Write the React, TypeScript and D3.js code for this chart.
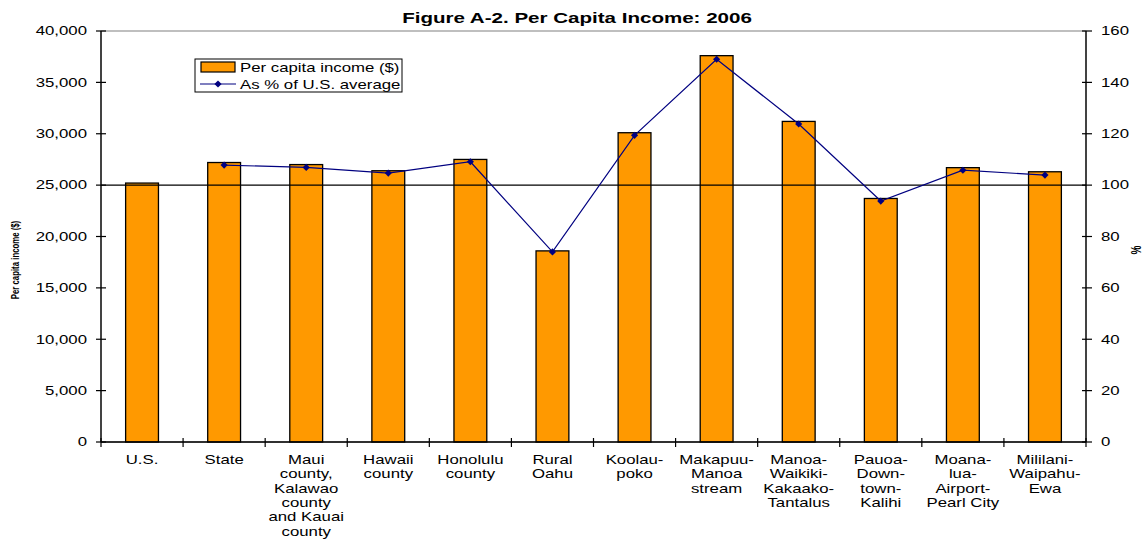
import React from "react";
import * as d3 from "d3";

const categories: string[][] = [
  ["U.S."],
  ["State"],
  ["Maui", "county,", "Kalawao", "county", "and Kauai", "county"],
  ["Hawaii", "county"],
  ["Honolulu", "county"],
  ["Rural", "Oahu"],
  ["Koolau-", "poko"],
  ["Makapuu-", "Manoa", "stream"],
  ["Manoa-", "Waikiki-", "Kakaako-", "Tantalus"],
  ["Pauoa-", "Down-", "town-", "Kalihi"],
  ["Moana-", "lua-", "Airport-", "Pearl City"],
  ["Mililani-", "Waipahu-", "Ewa"],
];
const incomeValues = [25200, 27200, 27000, 26400, 27500, 18600, 30100, 37600, 31200, 23700, 26700, 26300];
const pctValues: (number | null)[] = [null, 107.8, 106.9, 104.7, 109.1, 74.0, 119.4, 149.0, 123.8, 93.8, 105.8, 103.9];
const leftTicks = [0, 5000, 10000, 15000, 20000, 25000, 30000, 35000, 40000];
const rightTicks = [0, 20, 40, 60, 80, 100, 120, 140, 160];
const referencePct = 100;

const W = 1145, H = 542;
const L = 101, R = 1086, T = 31, B = 442;
const FONT = "'Liberation Sans', Arial, sans-serif";
const SX = 1.4;
const FS = 12;

function SText(props: { x: number; y: number; anchor?: string; size?: number; bold?: boolean; sx?: number; children: React.ReactNode }) {
  const { x, y, anchor = "start", size = FS, bold = false, sx = SX, children } = props;
  return (
    <text transform={`translate(${x},${y}) scale(${sx},1)`} textAnchor={anchor} fontSize={size} fontWeight={bold ? "bold" : "normal"}>
      {children}
    </text>
  );
}

export default function App() {
  const idx = categories.map((_, i) => String(i));
  const x = d3.scaleBand().domain(idx).range([L, R]).paddingInner(0.6).paddingOuter(0.3);
  const xOuter = d3.scaleBand().domain(idx).range([L, R]);
  const yL = d3.scaleLinear().domain([0, 40000]).range([B, T]);
  const yR = d3.scaleLinear().domain([0, 160]).range([B, T]);
  const fmt = d3.format(",");
  const cx = (i: number) => xOuter(String(i))! + xOuter.bandwidth() / 2;
  const pts = pctValues
    .map((v, i) => (v == null ? null : [cx(i), yR(v)] as [number, number]))
    .filter((p): p is [number, number] => p !== null);
  const line = d3.line()(pts) || "";
  const diamond = (px: number, py: number, r = 3.6) =>
    `M${px},${py - r}L${px + r},${py}L${px},${py + r}L${px - r},${py}Z`;

  return (
    <svg width={W} height={H} style={{ display: "block", position: "absolute", left: 0, top: 0 }} fontFamily={FONT}>
      <rect x={0} y={0} width={W} height={H} fill="#fff" />
      <SText x={577} y={23} anchor="middle" size={15} bold sx={1.37}>
        Figure A-2. Per Capita Income: 2006
      </SText>
      {/* plot border */}
      <rect x={L} y={T} width={R - L} height={B - T} fill="none" stroke="#808080" strokeWidth={1} />
      {/* bars */}
      {incomeValues.map((v, i) => (
        <rect key={i} x={x(String(i))} y={yL(v)} width={x.bandwidth()} height={B - yL(v)}
          fill="#FF9900" stroke="#000" strokeWidth={1.3} />
      ))}
      {/* reference line at 100% */}
      <line x1={L} x2={R} y1={yR(referencePct)} y2={yR(referencePct)} stroke="#000" strokeWidth={1.2} />
      {/* line series */}
      <path d={line} fill="none" stroke="#000080" strokeWidth={1.2} />
      {pts.map((p, i) => <path key={i} d={diamond(p[0], p[1])} fill="#000080" />)}
      {/* left axis */}
      <line x1={L} x2={L} y1={T} y2={B} stroke="#000" strokeWidth={1.3} />
      {leftTicks.map((t) => (
        <g key={t}>
          <line x1={L - 5} x2={L + 5} y1={yL(t)} y2={yL(t)} stroke="#000" strokeWidth={1.2} />
          <SText x={87} y={yL(t) + 4.3} anchor="end">{fmt(t)}</SText>
        </g>
      ))}
      {/* right axis */}
      <line x1={R} x2={R} y1={T} y2={B} stroke="#000" strokeWidth={1.3} />
      {rightTicks.map((t) => (
        <g key={t}>
          <line x1={R - 4} x2={R + 6} y1={yR(t)} y2={yR(t)} stroke="#000" strokeWidth={1.2} />
          <SText x={1101} y={yR(t) + 4.3}>{t}</SText>
        </g>
      ))}
      {/* bottom axis */}
      <line x1={L} x2={R} y1={B} y2={B} stroke="#000" strokeWidth={1.3} />
      {idx.concat([String(categories.length)]).map((k, i) => {
        const xx = i < categories.length ? xOuter(k)! : R;
        return <line key={k} x1={xx} x2={xx} y1={B - 4} y2={B + 5} stroke="#000" strokeWidth={1.2} />;
      })}
      {categories.map((lines, i) => (
        <g key={i}>
          {lines.map((s, j) => (
            <SText key={j} x={cx(i)} y={464 + j * 14.3} anchor="middle">{s}</SText>
          ))}
        </g>
      ))}
      {/* axis titles */}
      <text transform={`translate(18.5,260) scale(1.5,1) rotate(-90)`} textAnchor="middle" fontSize={7.8} fontWeight="bold">
        Per capita income ($)
      </text>
      <text transform={`translate(1141,250) scale(1.4,1) rotate(-90)`} textAnchor="middle" fontSize={10} fontWeight="bold">%</text>
      {/* legend */}
      <rect x={195} y={59} width={207} height={33} fill="#fff" stroke="#000" strokeWidth={1} />
      <rect x={201} y={62} width={34} height={10} fill="#FF9900" stroke="#000" strokeWidth={1.2} />
      <SText x={240} y={72}>Per capita income ($)</SText>
      <line x1={200} x2={236} y1={84} y2={84} stroke="#000080" strokeWidth={1.2} />
      <path d={diamond(218, 84)} fill="#000080" />
      <SText x={240} y={89}>As % of U.S. average</SText>
    </svg>
  );
}
